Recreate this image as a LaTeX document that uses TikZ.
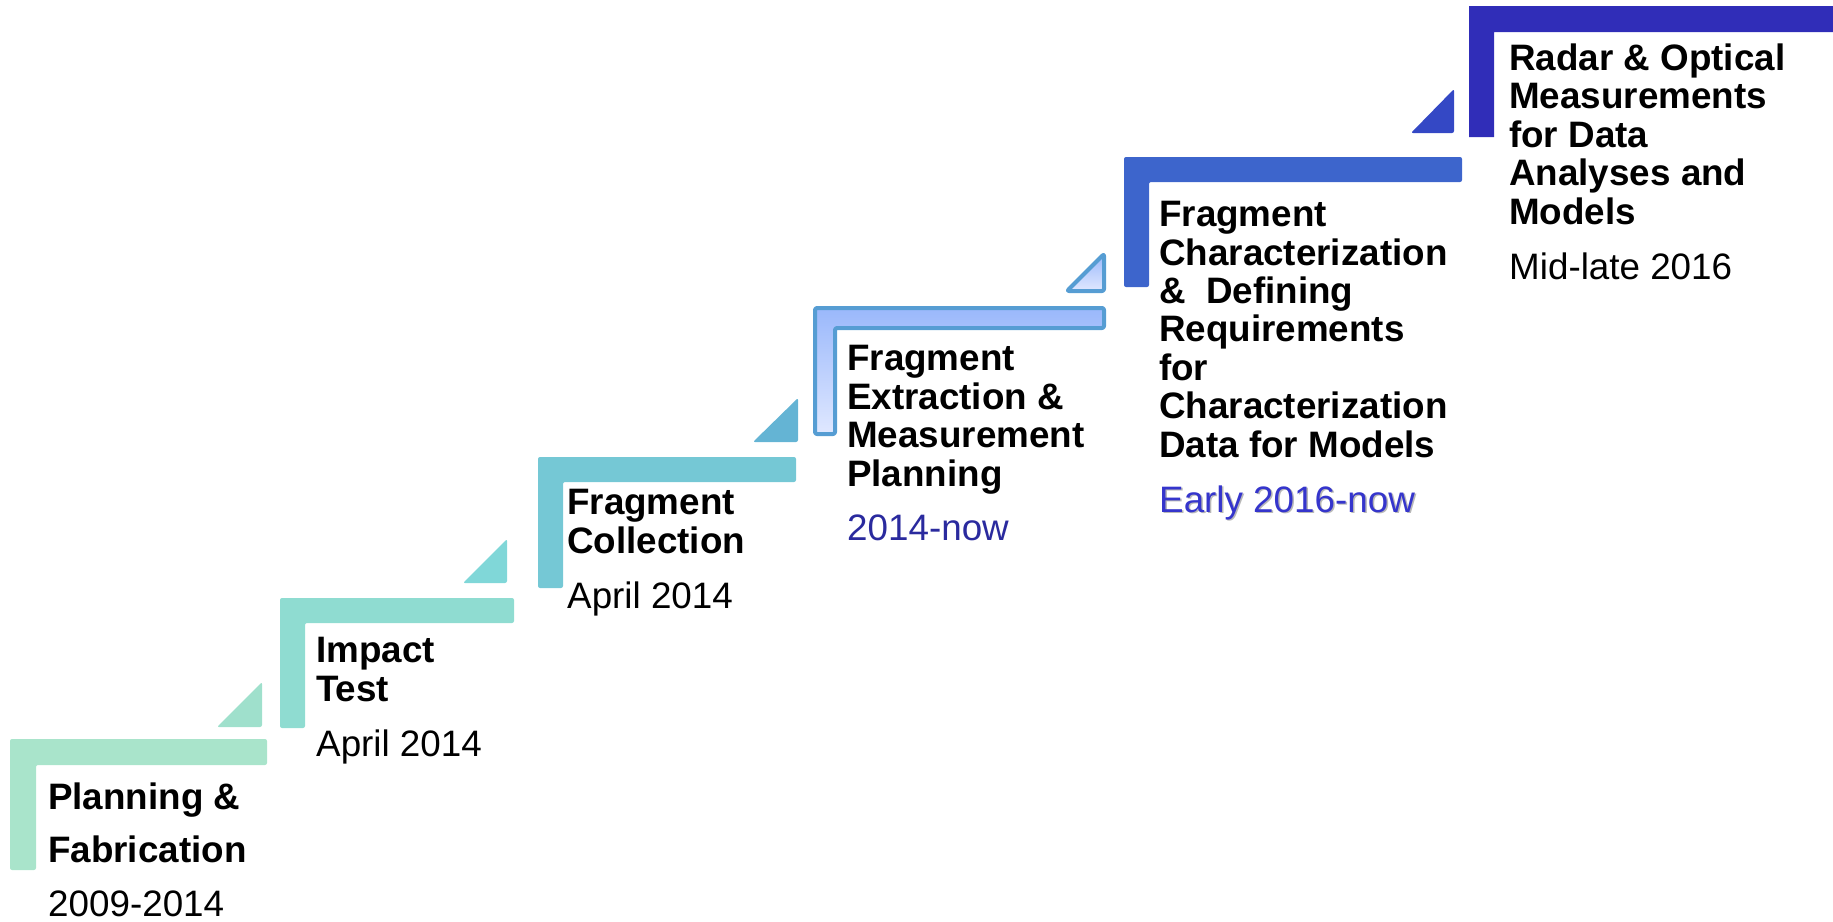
\documentclass[tikz,border=0pt]{standalone}
\usepackage{fontspec}
\setmainfont{Liberation Sans}

% step colours, light mint to deep indigo
\definecolor{barA}{HTML}{A9E4CB}
\definecolor{triA}{HTML}{9FE0CC}
\definecolor{barB}{HTML}{8FDCD1}
\definecolor{triB}{HTML}{80D7D8}
\definecolor{barC}{HTML}{75C8D5}
\definecolor{triC}{HTML}{64B4D4}
\definecolor{edgeD}{HTML}{569DD3}
\definecolor{topD}{HTML}{9AB8FB}
\definecolor{botD}{HTML}{E0E8FF}
\definecolor{barE}{HTML}{3D65CC}
\definecolor{triE}{HTML}{3448C5}
\definecolor{barF}{HTML}{302DB8}
\definecolor{dateD}{HTML}{2A2A9E}
\definecolor{dateE}{HTML}{3535CC}

% titles are placed by the baseline of their last line
\tikzset{
  stepbar/.style={rounded corners=2pt},
  outlined/.style={draw=edgeD, line width=4pt, line join=round, rounded corners=2pt,
                   top color=topD, bottom color=botD},
  title/.style={anchor=base west, inner sep=0pt, align=left,
                font=\fontsize{36.8pt}{38.4pt}\selectfont\bfseries},
  wide title/.style={title, font=\fontsize{36.8pt}{53pt}\selectfont\bfseries},
  when/.style={anchor=base west, inner sep=0pt,
               font=\fontsize{36.8pt}{38.4pt}\selectfont},
}

\begin{document}
\begin{tikzpicture}[x=1pt, y=-1pt]
\useasboundingbox (0,0) rectangle (1833,921);

% ---- step 1
\fill[barA, stepbar] (10,739) -- (267,739) -- (267,765) -- (36,765) -- (36,870) -- (10,870) -- cycle;
\fill[triA, stepbar] (217,727) -- (262,727) -- (262,682) -- cycle;
\node[wide title] (t1) at (48,862) {Planning \&\\Fabrication};
\node[when] (d1) at (48,916) {2009-2014};

% ---- step 2
\fill[barB, stepbar] (280,598) -- (514,598) -- (514,623) -- (305,623) -- (305,728) -- (280,728) -- cycle;
\fill[triB, stepbar] (463,583) -- (507,583) -- (507,539) -- cycle;
\node[title] (t2) at (316,701) {Impact\\Test};
\node[when] (d2) at (316,756) {April 2014};

% ---- step 3
\fill[barC, stepbar] (538,457) -- (796,457) -- (796,482) -- (563,482) -- (563,588) -- (538,588) -- cycle;
\fill[triC, stepbar] (753,442) -- (798,442) -- (798,398) -- cycle;
\node[title] (t3) at (567,553) {Fragment\\Collection};
\node[when] (d3) at (567,608) {April 2014};

% ---- step 4 (outlined, shaded)
\path[outlined] (815,308) -- (1104,308) -- (1104,328) -- (835,328) -- (835,434) -- (815,434) -- cycle;
\path[outlined] (1067,291) -- (1104,291) -- (1104,254) -- cycle;
\node[title] (t4) at (847,486) {Fragment\\Extraction \&\\Measurement\\Planning};
\node[when, text=dateD] (d4) at (847,540) {2014-now};

% ---- step 5
\fill[barE, stepbar] (1124,157) -- (1462,157) -- (1462,182) -- (1149,182) -- (1149,287) -- (1124,287) -- cycle;
\fill[triE, stepbar] (1411,133) -- (1454,133) -- (1454,89) -- cycle;
\node[title] (t5) at (1159,457) {Fragment\\Characterization\\\&\ \ Defining\\Requirements\\for\\Characterization\\Data for Models};
\node[when, text=black!28] (d5s) at (1160.5,513.5) {Early 2016-now};
\node[when, text=dateE] (d5) at (1159,512) {Early 2016-now};

% ---- step 6
\fill[barF] (1469,6) -- (1833,6) -- (1833,32) -- (1494,32) -- (1494,137) -- (1469,137) -- cycle;
\node[title] (t6) at (1509,224) {Radar \& Optical\\Measurements\\for Data\\Analyses and\\Models};
\node[when] (d6) at (1509,279) {Mid-late 2016};
\end{tikzpicture}
\end{document}
